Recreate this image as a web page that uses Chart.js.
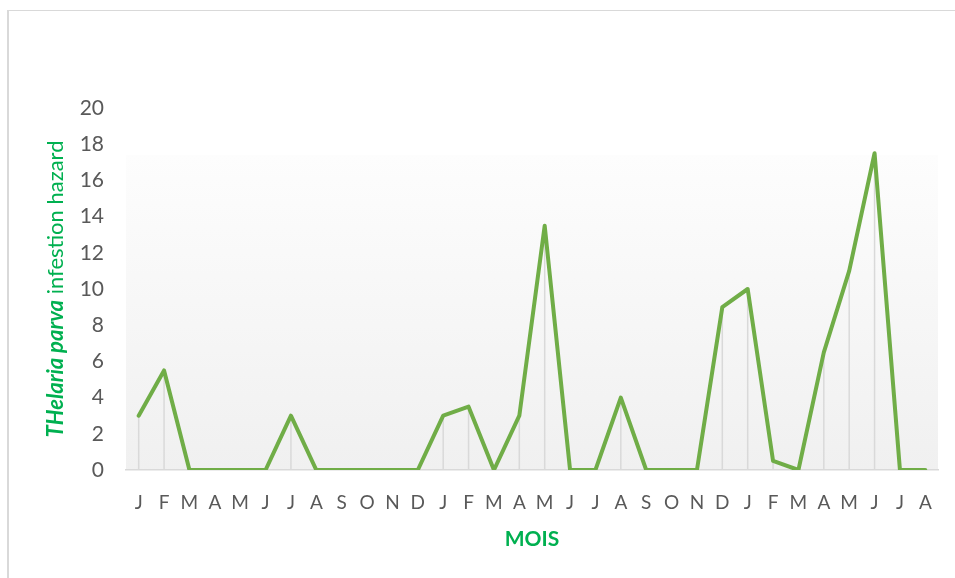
<!DOCTYPE html>
<html>
<head>
<meta charset="utf-8">
<script src="https://cdn.jsdelivr.net/npm/chart.js@4.4.1/dist/chart.umd.min.js"></script>
<style>
    html, body { margin: 0; padding: 0; background: #ffffff; overflow: hidden; }
    #wrap { position: relative; width: 955px; height: 578px; }
    #frame {
        position: absolute; left: 7px; top: 10px; right: -10px; bottom: -10px;
        border-left: 2px solid #d9d9d9; border-top: 1px solid #d9d9d9;
        pointer-events: none;
    }
    canvas { position: absolute; left: 0; top: 0; }
</style>
</head>
<body>
<div id="wrap">
    <canvas id="hazardChart" width="955" height="578"></canvas>
    <div id="frame"></div>
</div>
<script>
// Mois (sur 32 mois consécutifs)
const mois = ["J", "F", "M", "A", "M", "J", "J", "A", "S", "O", "N", "D",
              "J", "F", "M", "A", "M", "J", "J", "A", "S", "O", "N", "D",
              "J", "F", "M", "A", "M", "J", "J", "A"];
// Risque d'infestation par Theileria parva
const risque = [3, 5.5, 0, 0, 0, 0, 3, 0, 0, 0, 0, 0,
                3, 3.5, 0, 3, 13.5, 0, 0, 4, 0, 0, 0, 9,
                10, 0.5, 0, 6.5, 11, 17.5, 0, 0];
const yTicks = [0, 2, 4, 6, 8, 10, 12, 14, 16, 18, 20];

const vert = "#70ad47";
const titreVert = "#00b050";
const police = "Lato, 'Open Sans', sans-serif";

// fond dégradé de la zone de tracé
const fondDegrade = {
    id: "fondDegrade",
    beforeDraw(chart) {
        const { ctx, chartArea } = chart;
        const haut = chart.scales.y.getPixelForValue(17.4);
        const g = ctx.createLinearGradient(0, haut, 0, chartArea.bottom);
        g.addColorStop(0, "#fdfdfd");
        g.addColorStop(1, "#f0f0f0");
        ctx.save();
        ctx.fillStyle = g;
        ctx.fillRect(chartArea.left, haut, chartArea.right - chartArea.left, chartArea.bottom - haut);
        ctx.restore();
    }
};

// lignes de rappel verticales sous chaque point
const lignesRappel = {
    id: "lignesRappel",
    beforeDatasetsDraw(chart) {
        const { ctx } = chart;
        const y0 = chart.scales.y.getPixelForValue(0);
        ctx.save();
        ctx.strokeStyle = "#d9d9d9";
        ctx.lineWidth = 1.5;
        chart.getDatasetMeta(0).data.forEach((pt) => {
            ctx.beginPath();
            ctx.moveTo(pt.x, pt.y);
            ctx.lineTo(pt.x, y0);
            ctx.stroke();
        });
        ctx.restore();
    }
};

// titre de l'axe Y avec le nom d'espèce en gras italique
const titreAxeY = {
    id: "titreAxeY",
    afterDraw(chart) {
        const { ctx, chartArea } = chart;
        const part1 = "THelaria parva";
        const part2 = " infestion hazard";
        const f1 = "italic bold 22px " + police;
        const f2 = "22px " + police;
        ctx.save();
        ctx.font = f1;
        const w1 = ctx.measureText(part1).width;
        ctx.font = f2;
        const w2 = ctx.measureText(part2).width;
        const cy = (chartArea.top + chartArea.bottom) / 2;
        ctx.translate(56, cy);
        ctx.rotate(-Math.PI / 2);
        ctx.fillStyle = titreVert;
        ctx.textBaseline = "middle";
        ctx.textAlign = "left";
        let x = -(w1 + w2) / 2;
        ctx.font = f1;
        ctx.fillText(part1, x, 0);
        ctx.font = f2;
        ctx.fillText(part2, x + w1, 0);
        ctx.restore();
    }
};

const ctx = document.getElementById("hazardChart").getContext("2d");
new Chart(ctx, {
    type: "line",
    data: {
        labels: mois,
        datasets: [{
            label: "Theileria parva",
            data: risque,
            borderColor: vert,
            borderWidth: 4,
            borderCapStyle: "round",
            borderJoinStyle: "round",
            pointRadius: 0,
            tension: 0,
            fill: false
        }]
    },
    options: {
        responsive: false,
        animation: false,
        layout: { padding: { left: 0, right: 17, top: 108, bottom: 0 } },
        plugins: {
            legend: { display: false },
            tooltip: { enabled: false }
        },
        scales: {
            x: {
                offset: true,
                grid: { display: false, drawTicks: false },
                border: { display: true, color: "#d9d9d9", width: 1.5 },
                ticks: {
                    color: "#595959",
                    font: { family: police, size: 19 },
                    padding: 21,
                    autoSkip: false,
                    maxRotation: 0
                },
                title: {
                    display: true,
                    text: "MOIS",
                    color: titreVert,
                    font: { family: police, size: 21, weight: "bold" },
                    padding: { top: 0, bottom: 26 }
                },
                afterFit: (s) => { s.height = 108; }
            },
            y: {
                min: 0,
                max: 20,
                grid: { display: false, drawTicks: false },
                border: { display: false },
                afterBuildTicks: (s) => { s.ticks = yTicks.map((v) => ({ value: v })); },
                ticks: {
                    color: "#595959",
                    font: { family: police, size: 21 },
                    padding: 22
                },
                afterFit: (s) => { s.width = 126; }
            }
        }
    },
    plugins: [fondDegrade, lignesRappel, titreAxeY]
});
</script>
</body>
</html>
